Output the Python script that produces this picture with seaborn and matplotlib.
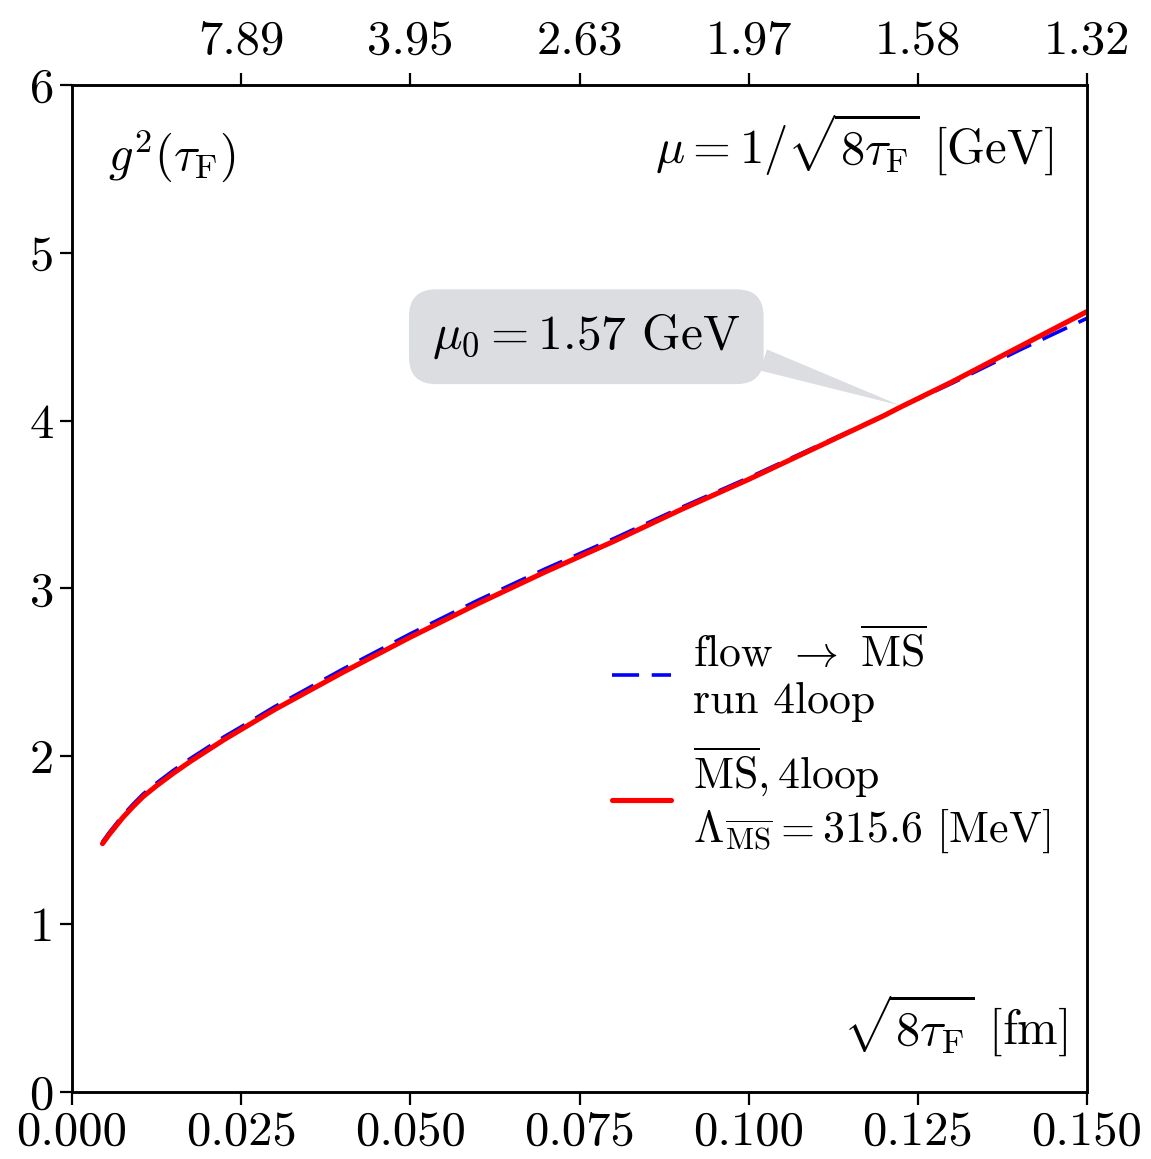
import numpy as np
import pandas as pd
import matplotlib
matplotlib.use("Agg")
import matplotlib.pyplot as plt
import seaborn as sns

# ---- data ----
x_fm = [0.0045, 0.0055, 0.0065, 0.0075, 0.009, 0.0105, 0.0125, 0.015, 0.0175,
        0.020, 0.0225, 0.025, 0.030, 0.035, 0.040, 0.050, 0.060, 0.070, 0.080,
        0.090, 0.100, 0.110, 0.120, 0.1224, 0.130, 0.140, 0.150]
g2_msbar = [1.48, 1.535, 1.585, 1.635, 1.70, 1.76, 1.825, 1.90, 1.97,
            2.035, 2.10, 2.16, 2.28, 2.39, 2.50, 2.71, 2.91, 3.10, 3.28,
            3.47, 3.65, 3.84, 4.03, 4.08, 4.23, 4.44, 4.65]
g2_flow = [1.49, 1.546, 1.597, 1.648, 1.714, 1.775, 1.841, 1.917, 1.987,
           2.052, 2.117, 2.176, 2.297, 2.408, 2.519, 2.73, 2.93, 3.118, 3.296,
           3.482, 3.66, 3.846, 4.031, 4.08, 4.222, 4.42, 4.61]

bottom_ticks = [0.0, 0.025, 0.05, 0.075, 0.1, 0.125, 0.15]
bottom_labels = ["0.000", "0.025", "0.050", "0.075", "0.100", "0.125", "0.150"]
top_ticks = [0.025, 0.05, 0.075, 0.1, 0.125, 0.15]
top_labels = ["7.89", "3.95", "2.63", "1.97", "1.58", "1.32"]
y_ticks = [0, 1, 2, 3, 4, 5, 6]

df = pd.DataFrame({"x": x_fm, "msbar": g2_msbar, "flow": g2_flow})

sns.set_style("ticks")
plt.rcParams["font.family"] = "serif"
plt.rcParams["font.serif"] = ["cmr10", "DejaVu Serif"]
plt.rcParams["mathtext.fontset"] = "cm"
plt.rcParams["axes.unicode_minus"] = False
plt.rcParams["text.color"] = "black"
plt.rcParams["xtick.color"] = "black"
plt.rcParams["ytick.color"] = "black"
plt.rcParams["axes.edgecolor"] = "black"

fig = plt.figure(figsize=(11.51, 11.59), dpi=100)
ax = fig.add_axes([0.0626, 0.0578, 0.8818, 0.8689])

sns.lineplot(data=df, x="x", y="flow", ax=ax, color="blue", lw=2.6,
             linestyle=(0, (7.5, 3.5)), sort=True, estimator=None,
             label="flow $\\rightarrow$ $\\overline{\\mathrm{MS}}$\nrun 4loop")
sns.lineplot(data=df, x="x", y="msbar", ax=ax, color="red", lw=3.7,
             sort=True, estimator=None,
             label="$\\overline{\\mathrm{MS}}, 4\\mathrm{loop}$\n$\\Lambda_{\\overline{\\mathrm{MS}}} = 315.6$ [MeV]")

ax.set_xlim(0, 0.15)
ax.set_ylim(0, 6)
ax.set_xticks(bottom_ticks)
ax.set_xticklabels(bottom_labels)
ax.set_yticks(y_ticks)
ax.set_yticklabels([str(v) for v in y_ticks])
ax.set_xlabel("")
ax.set_ylabel("")
ax.tick_params(direction="out", length=9, width=1.6, labelsize=35, pad=4,
               colors="black")
for s in ax.spines.values():
    s.set_linewidth(1.8)
    s.set_visible(True)
    s.set_color("black")

ax2 = ax.twiny()
ax2.set_xlim(ax.get_xlim())
ax2.set_xticks(top_ticks)
ax2.set_xticklabels(top_labels)
ax2.tick_params(direction="out", length=9, width=1.6, labelsize=35, pad=6,
                colors="black")
for s in ax2.spines.values():
    s.set_linewidth(1.8)
    s.set_color("black")

ax.text(0.035, 0.930, "$g^2(\\tau_{\\mathrm{F}})$", transform=ax.transAxes,
        fontsize=35, ha="left", va="center", color="black")
ax.text(0.966, 0.940, "$\\mu = 1/\\sqrt{8\\tau_{\\mathrm{F}}}$ [GeV]",
        transform=ax.transAxes, fontsize=35, ha="right", va="center",
        color="black")
ax.text(0.981, 0.066, "$\\sqrt{8\\tau_{\\mathrm{F}}}$ [fm]",
        transform=ax.transAxes, fontsize=35, ha="right", va="center",
        color="black")

ax.annotate("$\\mu_0 = 1.57$ GeV", xy=(0.1224, 4.09), xytext=(0.0760, 4.50),
            fontsize=35.5, ha="center", va="center", zorder=5, color="black",
            bbox=dict(boxstyle="round,pad=0.47,rounding_size=0.55",
                      fc="#dcdde0", ec="none"),
            arrowprops=dict(arrowstyle="wedge,tail_width=0.45", fc="#dcdde0",
                            ec="none", relpos=(0.99, 0.2),
                            shrinkA=0, shrinkB=0))

leg = ax.legend(loc="upper left", bbox_to_anchor=(0.515, 0.478), frameon=False,
                fontsize=31.5, handlelength=1.35, handletextpad=0.5,
                labelspacing=0.5, borderaxespad=0)
for t in leg.get_texts():
    t.set_color("black")

fig.savefig("out.png", dpi=100)
